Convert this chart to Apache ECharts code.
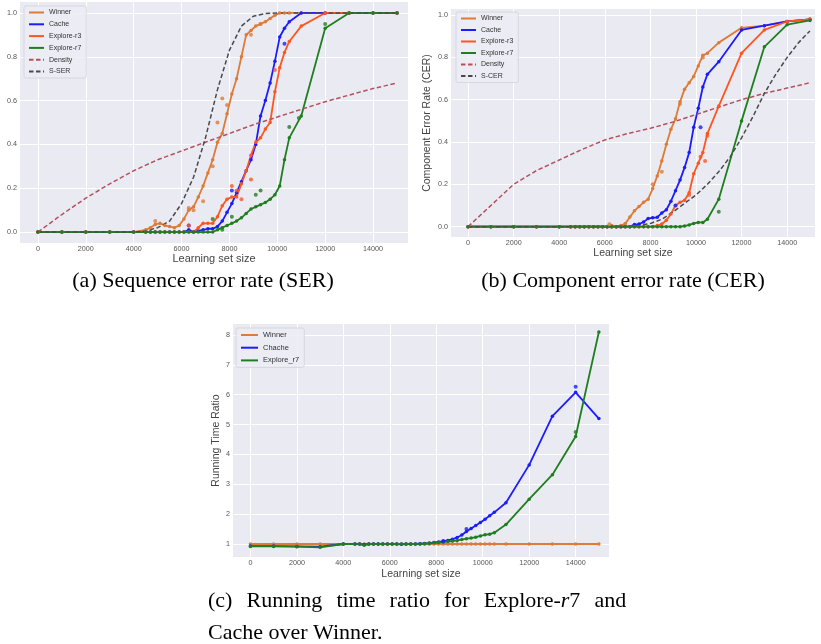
<!DOCTYPE html>
<html><head><meta charset="utf-8">
<script src="https://cdn.jsdelivr.net/npm/echarts@6/dist/echarts.min.js"></script>
<style>html,body{margin:0;padding:0;background:#fff}#c{width:821px;height:644px}</style>
</head><body><div id="c"></div>
<script>
// shared learning-set sizes for the measured curves
const X = [0,1000,2000,3000,4000,4500,4700,4900,5100,5300,5500,5700,5900,6100,6300,6500,6700,6900,7100,7300,7500,7700,7900,8100,8300,8500,8700,8900,9100,9300,9500,9700,9900,10100,10300,10500,11000,12000,13000,14000,15000];
// x for the smooth reference curves
const SX = [0,1000,2000,3000,4000,4500,5000,5500,6000,6500,7000,7500,8000,8500,9000,9500,10000,10500,11000,11500,12000,12500,13000,13500,14000,14500,15000];
const DX = [0,1000,2000,3000,4000,5000,6000,7000,8000,9000,10000,11000,12000,13000,14000,15000];
const xTicks = [0,2000,4000,6000,8000,10000,12000,14000];
const rateTicks = [0,0.2,0.4,0.6,0.8,1.0];
const ratioTicks = [1,2,3,4,5,6,7,8];

// (a) Sequence error rate
const serWinner = [0,0,0,0,0, 0.01,0.02,0.035,0.04,0.03, 0.025,0.02,0.03,0.06,0.10, 0.115,0.16,0.21,0.27,0.33, 0.41,0.45,0.54,0.63,0.70, 0.80,0.90,0.92,0.94,0.95, 0.96,0.975,0.99,1,1, 1,1,1,1,1,1];
const serCache = [0,0,0,0,0, 0,0,0,0,0, 0,0,0,0,0.01, 0,0.005,0.01,0.015,0.015, 0.025,0.05,0.09,0.13,0.18, 0.23,0.28,0.33,0.40,0.53, 0.60,0.68,0.78,0.89,0.93, 0.96,1,1,1,1,1];
const serR3 = [0,0,0,0,0, 0,0,0,0,0, 0,0,0,0,0, 0,0.02,0.04,0.04,0.04, 0.07,0.12,0.15,0.16,0.16, 0.22,0.28,0.35,0.41,0.43, 0.47,0.50,0.64,0.75,0.82, 0.87,0.94,1,1,1,1];
const serR7 = [0,0,0,0,0, 0,0,0,0,0, 0,0,0,0,0, 0,0,0,0,0, 0.01,0.02,0.03,0.04,0.05, 0.065,0.085,0.105,0.115,0.125, 0.135,0.15,0.17,0.21,0.33, 0.43,0.53,0.93,1,1,1];
const serDensity = [0,0.08,0.155,0.22,0.28,0.33,0.37,0.41,0.45,0.49,0.525,0.56,0.595,0.625,0.655,0.68];
const sSER = [0,0,0,0,0,0.005,0.02,0.05,0.13,0.25,0.43,0.65,0.83,0.94,0.985,0.997,1,1,1,1,1,1,1,1,1,1,1];
const serWinnerPts = [[4900,0.05],[6300,0.11],[6500,0.10],[6900,0.14],[7300,0.30],[7500,0.50],[7700,0.61],[7900,0.58],[8900,0.90],[9300,0.95]];
const serCachePts = [[6300,0.03],[8100,0.19],[10300,0.86]];
const serR3Pts = [[6300,0.03],[8100,0.21],[8300,0.19],[8500,0.15],[8900,0.24],[9900,0.74]];
const serR7Pts = [[7300,0.06],[7700,0.01],[8100,0.07],[9100,0.17],[9300,0.19],[10500,0.48],[10900,0.52],[12000,0.95]];

// (b) Component error rate
const cerWinner = [0,0,0,0,0, 0,0,0,0,0, 0,0,0,0,0.005, 0,0.005,0.015,0.045,0.075, 0.095,0.115,0.13,0.18,0.24, 0.31,0.39,0.46,0.51,0.59, 0.65,0.68,0.71,0.76,0.81, 0.82,0.87,0.94,0.95,0.97,0.98];
const cerCache = [0,0,0,0,0, 0,0,0,0,0, 0,0,0,0,0, 0,0,0,0,0.01, 0.012,0.022,0.038,0.042,0.044, 0.065,0.08,0.12,0.17,0.22, 0.28,0.35,0.47,0.56,0.66, 0.72,0.78,0.93,0.95,0.97,0.98];
const cerR3 = [0,0,0,0,0, 0,0,0,0,0, 0,0,0,0,0, 0,0,0,0,0, 0,0,0,0,0.005, 0.012,0.03,0.06,0.10,0.115, 0.125,0.16,0.25,0.30,0.35, 0.44,0.57,0.82,0.93,0.97,0.98];
const cerR7 = [0,0,0,0,0, 0,0,0,0,0, 0,0,0,0,0, 0,0,0,0,0, 0,0,0,0,0, 0,0,0,0,0, 0.003,0.008,0.015,0.02,0.02, 0.035,0.13,0.50,0.85,0.955,0.975];
const cerDensity = [0,0.1,0.2,0.265,0.315,0.365,0.41,0.44,0.465,0.495,0.53,0.565,0.6,0.63,0.655,0.68];
const sCER = [0,0,0,0,0,0,0,0,0,0,0.002,0.006,0.015,0.035,0.07,0.11,0.15,0.2,0.26,0.33,0.42,0.52,0.63,0.72,0.80,0.87,0.925];
const cerWinnerPts = [[6200,0.011],[8100,0.20],[8500,0.26],[9300,0.58],[10300,0.80]];
const cerCachePts = [[9100,0.10],[10200,0.47]];
const cerR3Pts = [[9700,0.15],[10200,0.33],[10400,0.31],[10500,0.43]];
const cerR7Pts = [[11000,0.07]];

// (c) Running time ratio
const rtWinner = [1,1,1,1,1, 1,1,1,1,1, 1,1,1,1,1, 1,1,1,1,1, 1,1,1,1,1, 1,1,1,1,1, 1,1,1,1,1, 1,1,1,1,1,1];
const rtCache = [0.93,0.93,0.92,0.91,1.0, 1.0,1.0,0.98,1.0,1.0, 1.0,1.0,1.0,1.0,1.0, 0.99,1.0,1.0,1.0,1.01, 1.02,1.03,1.05,1.07,1.09, 1.12,1.16,1.22,1.30,1.42, 1.52,1.62,1.72,1.83,1.95, 2.06,2.38,3.65,5.28,6.08,5.2];
const rtExplore = [0.92,0.92,0.91,0.89,1.0, 1.0,1.0,0.96,1.0,1.0, 1.0,1.0,1.0,1.0,1.0, 1.0,1.0,1.0,1.0,1.0, 1.01,1.02,1.04,1.05,1.06, 1.08,1.10,1.12,1.15,1.18, 1.20,1.23,1.27,1.31,1.33, 1.38,1.65,2.5,3.32,4.6,8.1];
const rtCachePts = [[14000,6.27],[9300,1.5],[8300,1.1]];
const rtExplorePts = [[14000,4.75]];

const C = {winner:'#dd7b38', cache:'#1c1cff', r3:'#ff5520', r7:'#1f7f1f', density:'#b5505c', sref:'#4a4a4a'};
const zip = (xs, ys) => xs.map((x, i) => [x, ys[i]]);
const SANS = 'Liberation Sans';

function line(name, gi, xs, ys, color, dashed, marks) {
  return {
    type: 'line', name, xAxisIndex: gi, yAxisIndex: gi, data: zip(xs, ys),
    symbol: marks ? 'circle' : 'none', symbolSize: 3.5, showSymbol: !!marks,
    itemStyle: {color}, lineStyle: {color, width: dashed ? 1.5 : 1.8, type: dashed ? [4.5, 2.5] : 'solid'},
    emphasis: {disabled: true}, animation: false, z: 3
  };
}
function pts(gi, data, color) {
  return {type: 'scatter', xAxisIndex: gi, yAxisIndex: gi, data, symbolSize: 4,
    itemStyle: {color}, emphasis: {disabled: true}, animation: false, z: 4};
}
function xAxis(gi, max, nameGap, nameSize) {
  return {type: 'value', gridIndex: gi, min: -750, max,
    name: 'Learning set size', nameLocation: 'middle', nameGap,
    nameTextStyle: {fontFamily: SANS, fontSize: nameSize, color: '#444'},
    axisLine: {show: false}, axisTick: {show: false, customValues: xTicks},
    axisLabel: {customValues: xTicks, formatter: v => String(v), fontFamily: SANS, fontSize: 7.2, color: '#555', margin: 2.5},
    splitLine: {show: true, lineStyle: {color: '#ffffff', width: 1}}};
}
function yAxis(gi, min, max, ticks, fmt, name, nameGap) {
  return {type: 'value', gridIndex: gi, min, max,
    name: name || '', nameLocation: 'middle', nameGap: nameGap || 0,
    nameTextStyle: {fontFamily: SANS, fontSize: 10.5, color: '#444'},
    axisLine: {show: false}, axisTick: {show: false, customValues: ticks},
    axisLabel: {customValues: ticks, formatter: fmt, fontFamily: SANS, fontSize: 7.2, color: '#555', margin: 3},
    splitLine: {show: true, lineStyle: {color: '#ffffff', width: 1}}};
}
function legend(left, top, names, gap, iw, fs) {
  return {data: names, orient: 'vertical', left, top, itemWidth: iw, itemHeight: 7, itemGap: gap,
    padding: [3, 5, 3, 4], backgroundColor: 'rgba(236,236,244,0.85)', borderColor: '#d2d2da', borderWidth: 0.8, borderRadius: 2,
    itemStyle: {opacity: 0}, textStyle: {fontFamily: SANS, fontSize: fs, color: '#333'}, selectedMode: false};
}
const f1 = v => v.toFixed(1);

const serif = 'Liberation Serif';
function cap(x, y, text, align) {
  return {type: 'text', x, y, silent: true, style: {text, fontFamily: serif, fontSize: 22, fill: '#000', align: align || 'left', verticalAlign: 'middle',
    rich: {i: {fontFamily: serif, fontSize: 22, fontStyle: 'italic', fill: '#000'}}}};
}

const option = {
  backgroundColor: '#ffffff',
  animation: false,
  grid: [
    {left: 20, top: 2, width: 388, height: 241, show: true, backgroundColor: '#eaeaf2', borderWidth: 0, outerBoundsMode: 'none'},
    {left: 451, top: 9, width: 364, height: 228, show: true, backgroundColor: '#eaeaf2', borderWidth: 0, outerBoundsMode: 'none'},
    {left: 233, top: 324, width: 376, height: 233, show: true, backgroundColor: '#eaeaf2', borderWidth: 0, outerBoundsMode: 'none'}
  ],
  xAxis: [xAxis(0, 15460, 10, 11), xAxis(1, 15222, 9, 10.5), xAxis(2, 15436, 12, 10.5)],
  yAxis: [
    yAxis(0, -0.05, 1.05, rateTicks, f1),
    yAxis(1, -0.049, 1.029, rateTicks, f1, 'Component Error Rate (CER)', 18),
    yAxis(2, 0.565, 8.368, ratioTicks, v => String(v), 'Running Time Ratio', 9)
  ],
  legend: [
    legend(24, 6, ['Winner','Cache','Explore-r3','Explore-r7','Density','S-SER'], 4.8, 15, 7),
    legend(456, 12, ['Winner','Cache','Explore-r3','Explore-r7','Density','S-CER'], 4.5, 15, 7),
    legend(236, 328, ['Winner','Chache','Explore_r7'], 4.7, 17, 7.5)
  ],
  series: [
    line('Winner', 0, X, serWinner, C.winner, false, true),
    line('Cache', 0, X, serCache, C.cache, false, true),
    line('Explore-r3', 0, X, serR3, C.r3, false, true),
    line('Explore-r7', 0, X, serR7, C.r7, false, true),
    pts(0, serWinnerPts, C.winner), pts(0, serCachePts, C.cache), pts(0, serR3Pts, C.r3), pts(0, serR7Pts, C.r7),
    line('Density', 0, DX, serDensity, C.density, true, false),
    line('S-SER', 0, SX, sSER, C.sref, true, false),

    line('Winner', 1, X, cerWinner, C.winner, false, true),
    line('Cache', 1, X, cerCache, C.cache, false, true),
    line('Explore-r3', 1, X, cerR3, C.r3, false, true),
    line('Explore-r7', 1, X, cerR7, C.r7, false, true),
    pts(1, cerWinnerPts, C.winner), pts(1, cerCachePts, C.cache), pts(1, cerR3Pts, C.r3), pts(1, cerR7Pts, C.r7),
    line('Density', 1, DX, cerDensity, C.density, true, false),
    line('S-CER', 1, SX, sCER, C.sref, true, false),

    line('Winner', 2, X, rtWinner, C.winner, false, true),
    line('Chache', 2, X, rtCache, C.cache, false, true),
    line('Explore_r7', 2, X, rtExplore, C.r7, false, true),
    pts(2, rtCachePts, C.cache), pts(2, rtExplorePts, C.r7)
  ],
  graphic: {elements: [
    cap(203, 281, '(a) Sequence error rate (SER)', 'center'),
    cap(623, 281, '(b) Component error rate (CER)', 'center'),
    cap(208, 601, '(c)'), cap(246.5, 601, 'Running'), cap(336.4, 601, 'time'), cap(389.6, 601, 'ratio'),
    cap(444, 601, 'for'), cap(483.8, 601, 'Explore-{i|r}7'), cap(594.4, 601, 'and'),
    cap(208, 633, 'Cache over Winner.')
  ]}
};
const chart = echarts.init(document.getElementById('c'));
chart.setOption(option);
</script></body></html>
